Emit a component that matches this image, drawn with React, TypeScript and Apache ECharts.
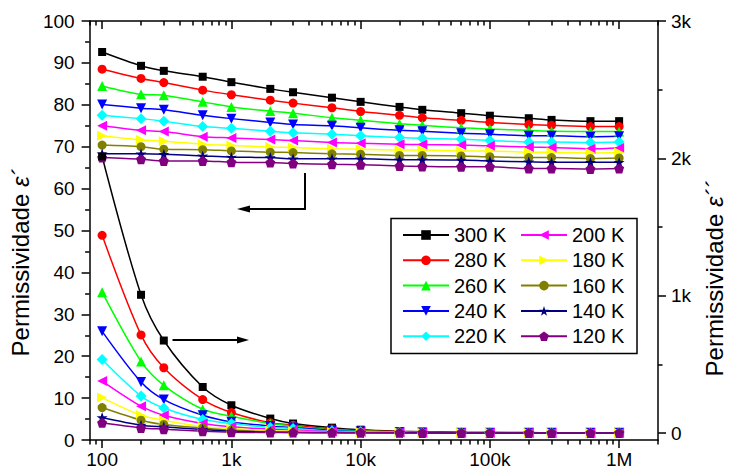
import React, { useEffect, useRef } from "react";
import * as echarts from "echarts";

// ---------- data ----------
const frequencies = [100, 200, 300, 600, 1000, 2000, 3000, 6000, 10000, 20000, 30000, 60000, 100000, 200000, 300000, 600000, 1000000];
const temperatures = ["300 K", "280 K", "260 K", "240 K", "220 K", "200 K", "180 K", "160 K", "140 K", "120 K"];

// real permittivity ε' (left axis)
const eReal300 = [92.6, 89.3, 88.1, 86.7, 85.4, 83.8, 83.0, 81.7, 80.7, 79.5, 78.8, 78.0, 77.4, 76.8, 76.4, 76.1, 76.1];
const eReal280 = [88.5, 86.3, 85.3, 83.5, 82.4, 81.1, 80.4, 79.3, 78.4, 77.5, 76.9, 76.3, 75.8, 75.3, 75.1, 74.8, 74.8];
const eReal260 = [84.5, 82.5, 82.3, 80.7, 79.5, 78.5, 78.0, 76.9, 76.3, 75.5, 75.1, 74.5, 74.2, 73.9, 73.7, 73.6, 73.6];
const eReal240 = [80.1, 79.2, 78.8, 77.5, 76.7, 75.8, 75.3, 75.0, 74.5, 73.9, 73.7, 73.2, 73.0, 72.6, 72.6, 72.4, 72.5];
const eReal220 = [77.5, 76.7, 76.1, 74.8, 74.4, 73.7, 73.3, 73.0, 72.6, 72.2, 72.0, 71.8, 71.5, 71.1, 71.1, 71.0, 71.1];
const eReal200 = [75.0, 73.9, 73.6, 72.4, 72.1, 71.7, 71.5, 71.0, 70.8, 70.6, 70.5, 70.4, 70.2, 69.9, 69.8, 69.5, 69.7];
const eReal180 = [72.6, 71.6, 71.3, 70.6, 70.3, 69.9, 69.8, 69.5, 69.4, 69.2, 69.2, 69.0, 69.0, 68.7, 68.7, 68.5, 68.6];
const eReal160 = [70.4, 70.0, 69.4, 69.3, 69.0, 68.7, 68.6, 68.3, 68.2, 67.9, 67.9, 67.8, 67.6, 67.4, 67.4, 67.2, 67.3];
const eReal140 = [68.3, 68.3, 68.2, 67.8, 67.5, 67.4, 67.1, 67.1, 67.1, 66.9, 66.9, 66.8, 66.6, 66.4, 66.3, 66.3, 66.3];
const eReal120 = [67.4, 67.0, 66.6, 66.6, 66.3, 66.2, 66.0, 65.8, 65.7, 65.4, 65.3, 65.2, 65.2, 64.8, 64.8, 64.7, 64.8];

// imaginary permittivity ε'' (right axis)
const eImag300 = [2014, 1007, 674, 336, 203, 106, 70, 40, 25, 14, 10, 6, 5, 4, 3, 3, 3];
const eImag280 = [1440, 715, 476, 244, 150, 75, 58, 30, 19, 11, 8, 5, 4, 3, 3, 2, 2];
const eImag260 = [1026, 522, 348, 174, 123, 70, 51, 24, 15, 9, 7, 4, 3, 3, 2, 2, 2];
const eImag240 = [741, 372, 244, 130, 82, 51, 41, 19, 12, 7, 5, 3, 3, 2, 2, 2, 2];
const eImag220 = [536, 270, 183, 99, 70, 41, 34, 15, 10, 6, 4, 3, 2, 2, 2, 2, 2];
const eImag200 = [379, 196, 130, 70, 46, 29, 22, 11, 8, 5, 3, 2, 2, 2, 1, 1, 1];
const eImag180 = [259, 130, 94, 46, 34, 17, 14, 8, 6, 4, 3, 2, 2, 1, 1, 1, 1];
const eImag160 = [186, 94, 63, 38, 22, 10, 5, 5, 4, 3, 2, 2, 1, 1, 1, 1, 1];
const eImag140 = [114, 58, 46, 27, 14, 8, 6, 4, 3, 2, 2, 1, 1, 1, 1, 1, 1];
const eImag120 = [75, 38, 29, 14, 7, 5, 4, 3, 2, 2, 1, 1, 1, 1, 1, 1, 1];

const realSets = [eReal300, eReal280, eReal260, eReal240, eReal220, eReal200, eReal180, eReal160, eReal140, eReal120];
const imagSets = [eImag300, eImag280, eImag260, eImag240, eImag220, eImag200, eImag180, eImag160, eImag140, eImag120];

// axis ticks
const xMajorTicks = [100, 1000, 10000, 100000, 1000000];
const xMinorTicks = [80, 90, 200, 300, 400, 500, 600, 700, 800, 900, 2000, 3000, 4000, 5000, 6000, 7000, 8000, 9000,
  20000, 30000, 40000, 50000, 60000, 70000, 80000, 90000, 200000, 300000, 400000, 500000, 600000, 700000, 800000, 900000, 2000000];
const rightMajorTicks = [0, 1000, 2000, 3000];
const rightMinorTicks = [500, 1500, 2500];

// ---------- styles ----------
const colors = ["#000000", "#ff0000", "#00ff00", "#0000ff", "#00ffff", "#ff00ff", "#ffff00", "#808000", "#000080", "#800080"];
const STAR = "path://M50,0 L61.8,35.1 L97.6,34.5 L69,56.2 L79.4,90.5 L50,70 L20.6,90.5 L31,56.2 L2.4,34.5 L38.2,35.1 Z";
const PENTAGON = "path://M50,0 L97.6,34.5 L79.4,90.5 L20.6,90.5 L2.4,34.5 Z";
const symbols = ["rect", "circle", "triangle", "triangle", "diamond", "triangle", "triangle", "circle", STAR, PENTAGON];
const symbolRotates = [0, 0, 0, 180, 0, 90, -90, 0, 0, 0];
const symbolSizes = [8, 9, 10, 10, 11, 10, 10, 9, 11, 10];

const FONT = "Liberation Sans";

function fmtK(v: number): string {
  if (v >= 1000000) return v / 1000000 + "M";
  if (v >= 1000) return v / 1000 + "k";
  return String(v);
}

export default function App() {
  const ref = useRef<HTMLDivElement>(null);
  useEffect(() => {
    if (!ref.current) return;
    const chart = echarts.init(ref.current, null, { renderer: "svg" });
    const black = { color: "#000", width: 1.5 };
    const xBase: any = {
      type: "log",
      logBase: 10,
      min: 80,
      max: 2000000,
      splitLine: { show: false },
      minorTick: { show: false },
      minorSplitLine: { show: false },
    };
    const series: any[] = [];
    const addSeries = (sets: number[][], yIdx: number) => {
      sets.forEach((vals, i) => {
        series.push({
          name: temperatures[i],
          type: "line",
          xAxisIndex: 0,
          yAxisIndex: yIdx,
          data: frequencies.map((f, j) => [f, vals[j]]),
          smooth: 0.3,
          symbol: symbols[i],
          symbolSize: symbolSizes[i],
          symbolRotate: symbolRotates[i],
          itemStyle: { color: colors[i] },
          lineStyle: { color: colors[i], width: 1.5 },
        });
      });
    };
    addSeries(realSets, 0);
    addSeries(imagSets, 1);

    const legendCommon: any = {
      orient: "vertical",
      top: 225,
      itemWidth: 46,
      itemHeight: 12,
      itemGap: 5.3,
      padding: 0,
      selectedMode: false,
      textStyle: { fontSize: 20, color: "#000", fontFamily: FONT, lineHeight: 20 },
    };

    const titleStyle = (size: number, shift: number) => ({
      color: "#000",
      padding: [0, shift, 0, 0],
      rich: {
        n: { fontSize: size, fontFamily: FONT, color: "#000" },
        e: { fontSize: size, fontFamily: FONT, fontStyle: "italic", color: "#000" },
      },
    });

    chart.setOption({
      animation: false,
      backgroundColor: "#fff",
      textStyle: { fontFamily: FONT },
      grid: { left: 82, right: 61, top: 21, bottom: 31, containLabel: false },
      legend: [
        { ...legendCommon, left: 402, data: temperatures.slice(0, 5) },
        { ...legendCommon, left: 520, data: temperatures.slice(5) },
      ],
      xAxis: [
        {
          ...xBase,
          position: "bottom",
          axisLine: { show: true, onZero: false, lineStyle: black },
          axisTick: { show: true, customValues: xMajorTicks, length: 8, lineStyle: black },
          axisLabel: { show: true, customValues: xMajorTicks, formatter: (v: number) => fmtK(v), fontSize: 19, color: "#000", fontFamily: FONT, margin: 10 },
        },
        {
          ...xBase,
          position: "bottom",
          axisLine: { show: false, onZero: false },
          axisTick: { show: true, customValues: xMinorTicks, length: 4.5, lineStyle: black },
          axisLabel: { show: false },
        },
        {
          ...xBase,
          position: "top",
          axisLine: { show: true, onZero: false, lineStyle: black },
          axisTick: { show: true, inside: true, customValues: xMajorTicks, length: 8, lineStyle: black },
          axisLabel: { show: false },
        },
        {
          ...xBase,
          position: "top",
          axisLine: { show: false, onZero: false },
          axisTick: { show: true, inside: true, customValues: xMinorTicks, length: 4.5, lineStyle: black },
          axisLabel: { show: false },
        },
      ],
      yAxis: [
        {
          type: "value",
          position: "left",
          min: 0,
          max: 100,
          interval: 10,
          splitLine: { show: false },
          axisLine: { show: true, onZero: false, lineStyle: black },
          axisTick: { show: true, length: 8, lineStyle: black },
          minorTick: { show: true, splitNumber: 2, length: 4.5, lineStyle: black },
          axisLabel: { fontSize: 19, color: "#000", fontFamily: FONT, margin: 15 },
          name: "{n|Permissividade }{e|ε´}",
          nameLocation: "middle",
          nameRotate: 90,
          nameGap: 50,
          nameTextStyle: titleStyle(24, 64),
        },
        {
          type: "value",
          position: "right",
          min: -50,
          max: 3000,
          splitLine: { show: false },
          axisLine: { show: true, onZero: false, lineStyle: black },
          axisTick: { show: true, customValues: rightMajorTicks, length: 8, lineStyle: black },
          axisLabel: { customValues: rightMajorTicks, formatter: (v: number) => fmtK(v), fontSize: 19, color: "#000", fontFamily: FONT, margin: 13 },
          name: "{n|Permissividade }{e|ε´´}",
          nameLocation: "middle",
          nameRotate: 90,
          nameGap: 37,
          nameTextStyle: titleStyle(24, 96),
        },
        {
          type: "value",
          position: "right",
          min: -50,
          max: 3000,
          splitLine: { show: false },
          axisLine: { show: false, onZero: false },
          axisTick: { show: true, customValues: rightMinorTicks, length: 4.5, lineStyle: black },
          axisLabel: { show: false },
        },
      ],
      series,
      graphic: [
        {
          type: "rect",
          shape: { x: 391, y: 218.5, width: 246, height: 135 },
          style: { fill: "none", stroke: "#000", lineWidth: 1.5 },
          z: 10,
        },
        {
          type: "polyline",
          shape: { points: [[305, 173], [305, 209], [248, 209]] },
          style: { fill: "none", stroke: "#000", lineWidth: 2 },
          z: 10,
        },
        {
          type: "polygon",
          shape: { points: [[237, 209], [250, 205.5], [250, 212.5]] },
          style: { fill: "#000", stroke: "none" },
          z: 10,
        },
        {
          type: "line",
          shape: { x1: 172.5, y1: 340, x2: 239, y2: 340 },
          style: { stroke: "#000", lineWidth: 2 },
          z: 10,
        },
        {
          type: "polygon",
          shape: { points: [[249, 340], [237, 336.5], [237, 343.5]] },
          style: { fill: "#000", stroke: "none" },
          z: 10,
        },
      ],
    });
    return () => chart.dispose();
  }, []);
  return <div ref={ref} style={{ width: 734, height: 471, position: "absolute", left: 0, top: 0 }} />;
}
